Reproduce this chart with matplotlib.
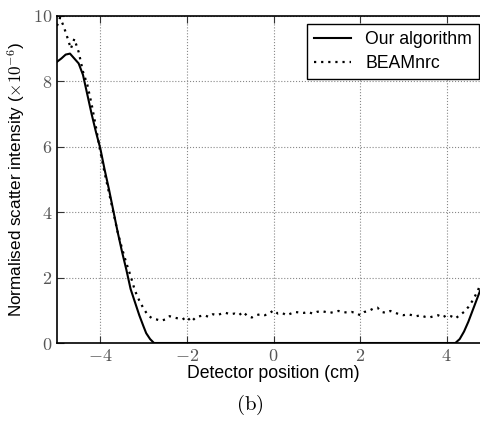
import numpy as np
import matplotlib.pyplot as plt

plt.rcParams['font.family'] = ['Liberation Sans', 'DejaVu Sans']
plt.rcParams['mathtext.fontset'] = 'cm'

# Our algorithm
x_ours = [-5.0, -4.9, -4.8, -4.7, -4.6, -4.5, -4.4, -4.3, -4.2, -4.1, -4.0,
          -3.9, -3.8, -3.7, -3.6, -3.5, -3.4, -3.3, -3.2, -3.1, -3.0, -2.94,
          -2.85, -2.76, 4.2, 4.3, 4.4, 4.5, 4.6, 4.7, 4.8]
y_ours = [8.6, 8.7, 8.82, 8.85, 8.7, 8.55, 8.2, 7.6, 7.0, 6.45, 5.95,
          5.3, 4.7, 4.05, 3.4, 2.8, 2.25, 1.65, 1.25, 0.85, 0.5, 0.3,
          0.12, 0.0, 0.0, 0.12, 0.35, 0.65, 1.0, 1.35, 1.7]

# BEAMnrc
x_beam = [-5.0, -4.93, -4.85, -4.75, -4.68, -4.6, -4.5, -4.4, -4.3, -4.2,
          -4.1, -4.0, -3.9, -3.8, -3.7, -3.6, -3.5, -3.4, -3.3, -3.2, -3.1,
          -3.0, -2.9, -2.8, -2.7, -2.6, -2.5, -2.4, -2.3, -2.2, -2.1, -2.0,
          -1.9, -1.8, -1.7, -1.6, -1.5, -1.4, -1.3, -1.2, -1.1, -1.0, -0.9,
          -0.8, -0.7, -0.6, -0.5, -0.4, -0.3, -0.2, -0.1, 0.0, 0.1, 0.2, 0.3,
          0.4, 0.5, 0.6, 0.7, 0.8, 0.9, 1.0, 1.1, 1.2, 1.3, 1.4, 1.5, 1.6,
          1.7, 1.8, 1.9, 2.0, 2.1, 2.2, 2.3, 2.4, 2.5, 2.6, 2.7, 2.8, 2.9,
          3.0, 3.1, 3.2, 3.3, 3.4, 3.5, 3.6, 3.7, 3.8, 3.9, 4.0, 4.1, 4.2,
          4.3, 4.4, 4.5, 4.6, 4.7, 4.8]
y_beam = [9.7, 9.95, 9.7, 9.3, 9.0, 9.3, 8.9, 8.3, 7.9, 7.3,
          6.6, 5.85, 5.2, 4.6, 4.0, 3.4, 2.9, 2.45, 2.05, 1.6, 1.3,
          1.05, 0.85, 0.75, 0.72, 0.68, 0.72, 0.82, 0.78, 0.75, 0.72, 0.8,
          0.65, 0.78, 0.82, 0.85, 0.8, 0.88, 0.85, 0.9, 0.92, 0.88, 0.9,
          0.85, 0.95, 0.82, 0.78, 0.85, 0.88, 0.85, 0.9, 1.0, 0.9, 0.92, 0.85,
          0.9, 0.95, 0.93, 0.92, 0.95, 0.9, 0.95, 0.98, 0.95, 0.92, 0.95, 0.98, 0.95,
          0.93, 0.95, 0.92, 0.85, 0.95, 0.98, 1.05, 1.08, 0.95, 0.92, 0.98, 0.93, 0.88,
          0.85, 0.88, 0.85, 0.82, 0.85, 0.8, 0.78, 0.82, 0.85, 0.78, 0.85, 0.82, 0.75,
          0.85, 0.95, 1.1, 1.3, 1.55, 1.85]

x_ticks = [-4, -2, 0, 2, 4]
y_ticks = [0, 2, 4, 6, 8, 10]

fig = plt.figure(figsize=(4.8, 4.21), dpi=100)
ax = fig.add_axes([57 / 480, 78 / 421, 433 / 480, 327 / 421])

ax.plot(x_ours, y_ours, color='black', lw=1.5, label='Our algorithm')
ax.plot(x_beam, y_beam, color='black', lw=1.6, ls=(0, (1, 2.2)), label='BEAMnrc')

ax.set_xlim(-5, 5)
ax.set_ylim(0, 10)
ax.set_xticks(x_ticks)
ax.set_xticklabels(['$%d$' % t for t in x_ticks])
ax.set_yticks(y_ticks)
ax.set_yticklabels(['$%d$' % t for t in y_ticks])
ax.tick_params(direction='in', top=True, right=True, labelsize=13,
               length=5, width=0.8, colors='#333333', labelcolor='#555555')
ax.grid(True, ls=':', color='#888888', lw=0.8)
for s in ax.spines.values():
    s.set_linewidth(1.2)

ax.set_xlabel('Detector position (cm)', fontsize=12.7, labelpad=0)
ax.set_ylabel(r'Normalised scatter intensity ($\times10^{-6}$)', fontsize=12.3, labelpad=4)

leg = ax.legend(loc='upper right', bbox_to_anchor=(422 / 433, 319 / 327),
                fontsize=12.7, fancybox=False, framealpha=1, edgecolor='black',
                handlelength=2.1, borderaxespad=0, labelspacing=0.4)
leg.get_frame().set_linewidth(1.0)

fig.text(250 / 480, 16 / 421, '$\\mathrm{(b)}$', fontsize=15, ha='center', va='center')

fig.savefig('out.png', dpi=100)
